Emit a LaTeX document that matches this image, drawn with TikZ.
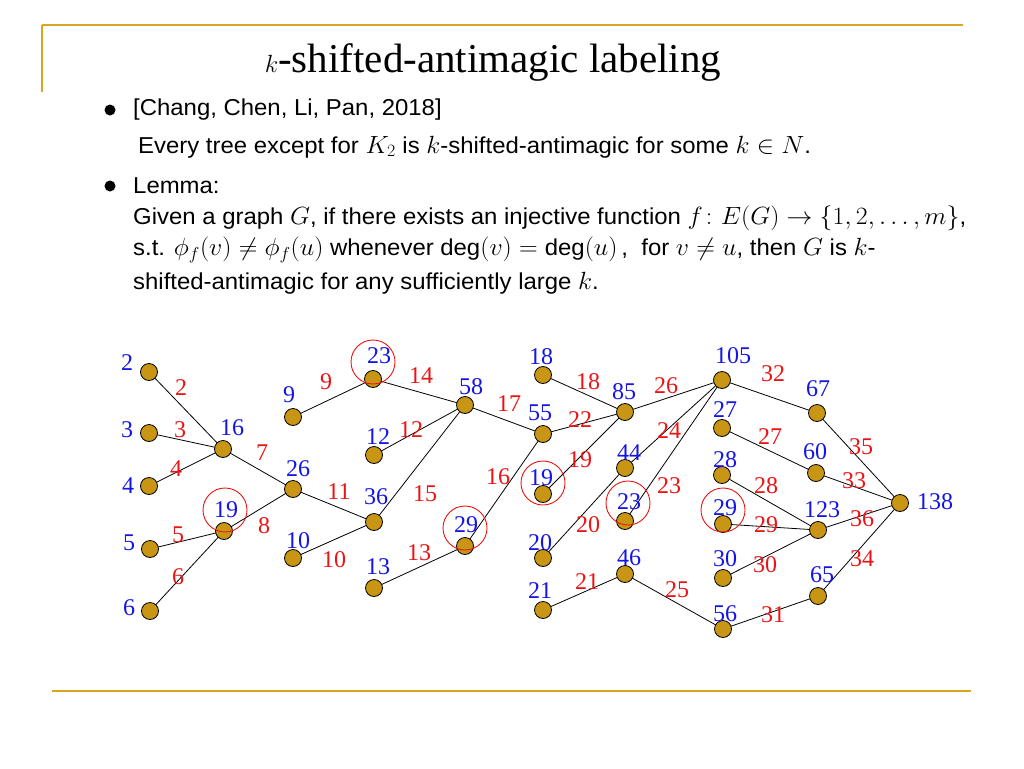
\documentclass[tikz,border=0pt]{standalone}
\usepackage{fontspec}
\setmainfont{Liberation Sans}
\newfontfamily\numfont{Liberation Serif}
\usepackage{amsmath}
\usetikzlibrary{positioning,backgrounds}
\definecolor{gold}{RGB}{218,165,32}
\definecolor{vfill}{RGB}{200,150,20}
\definecolor{wblue}{RGB}{20,20,230}
\definecolor{ered}{RGB}{235,20,20}
\tikzset{
  vert/.style={circle,draw=black,fill=vfill,minimum size=17pt,inner sep=0pt,line width=0.8pt},
  wlab/.style={text=wblue,font=\numfont\fontsize{24}{24}\selectfont,inner sep=0pt},
  elab/.style={text=ered,font=\numfont\fontsize{24}{24}\selectfont,inner sep=0pt},
  ring/.style={draw=ered,line width=0.9pt,circle,minimum size=44pt,inner sep=0pt},
  txt/.style={anchor=west,font=\fontsize{23}{23}\selectfont,inner sep=0pt}
}
\newcommand{\wideline}[1]{\scalebox{1.04}[1]{#1}}
\begin{document}
\begin{tikzpicture}[x=1pt,y=-1pt]
  \useasboundingbox (0,0) rectangle (1024,768);

  % frame lines
  \draw[gold,line width=1.5pt] (42,25) -- (963,25);
  \draw[gold,line width=1.5pt] (42,25) -- (42,92);
  \draw[gold,line width=1.5pt] (52,691) -- (971,691);

  % title and text
  \node[font=\numfont\fontsize{41}{41}\selectfont] (title) at (493,62) {$k$-shifted-antimagic labeling};
  \fill (110,110) circle (5.5pt);
  \fill (110,186) circle (5.5pt);
  \node[txt] (t1) at (133,110) {\wideline{[Chang, Chen, Li, Pan, 2018]}};
  \node[txt] (t2) at (138,147) {\wideline{Every tree except for $K_2$ is $k$-shifted-antimagic for some $k\in N$.}};
  \node[txt] (t3) at (133,186) {\wideline{Lemma:}};
  \node[txt] (t4) at (133,218) {\wideline{Given a graph $G$, if there exists an injective function $f\colon E(G)\to\{1,2,\ldots,m\}$,}};
  \node[txt] (t5) at (133,250) {\wideline{s.t. $\phi_f(v)\neq\phi_f(u)$ whenever $\deg(v)=\deg(u)$\,,\ \ for $v\neq u$, then $G$ is $k$-}};
  \node[txt] (t6) at (133,283) {\wideline{shifted-antimagic for any sufficiently large $k$.}};

  % vertices: name/x/y/weight/weight x/weight y
  \foreach \n/\x/\y/\w/\wx/\wy in {
    a/149/372/2/127/363, b/149/433/3/127/430, c/149/486/4/128/486,
    d/150/549/5/129/543, e/150/611/6/129/608, f/223/449/16/232/428,
    g/224/531/19/226/510, h/293/489/26/298/469, i/293/417/9/289/395,
    j/293/558/10/298/541, k/373/379/23/379/356, l/374/455/12/378/437,
    m/374/522/36/376/497, n/374/588/13/378/567, o/465/405/58/471/387,
    p/465/546/29/466/525, q/543/375/18/541/357, r/543/434/55/540/413,
    s/543/494/19/541/478, t/543/558/20/540/543, u/543/610/21/540/591,
    v/625/412/85/624/392, w/625/468/44/629/453, x/625/521/23/629/502,
    y/625/574/46/629/558, z/722/380/105/733/356, A/722/428/27/725/410,
    B/722/475/28/725/460, C/723/524/29/725/508, D/723/578/30/725/559,
    E/723/629/56/725/614, F/817/413/67/818/389, G/816/473/60/815/452,
    H/818/530/123/822/510, I/818/596/65/822/575, J/900/503/138/935/502}
  {
    \node[vert] (v\n) at (\x,\y) {};
    \node[wlab] (w\n) at (\wx,\wy) {\w};
  }

  % red rings
  \foreach \x/\y in {373/362,225/510,465/528,543/483,628/503,723/510}
    \node[ring] at (\x,\y) {};

  % edges: from/to/label/label x/label y
  \foreach \p/\q/\l/\lx/\ly in {
    a/f/2/181/388, b/f/3/180/430, c/f/4/176/469, d/g/5/178/535,
    e/g/6/178/577, f/h/7/262/453, g/h/8/264/526, i/k/9/326/382,
    j/m/10/334/560, h/m/11/339/492, l/o/12/411/430, n/p/13/419/553,
    k/o/14/421/376, m/o/15/425/494, p/r/16/498/477, o/r/17/509/404,
    q/v/18/588/382, s/v/19/580/460, t/w/20/588/525, u/y/21/587/582,
    r/v/22/580/420, x/z/23/669/486, w/z/24/669/431, y/E/25/677/590,
    v/z/26/666/386, A/G/27/770/437, B/H/28/766/486, C/H/29/766/525,
    D/H/30/765/565, E/I/31/773/615, z/F/32/773/374, G/J/33/854/481,
    I/J/34/862/559, F/J/35/861/447, H/J/36/862/519}
  {
    \begin{pgfonlayer}{background}
      \draw[line width=0.8pt] (v\p.center) -- (v\q.center);
    \end{pgfonlayer}
    \node[elab] (e\l) at (\lx,\ly) {\l};
  }
\end{tikzpicture}
\end{document}
